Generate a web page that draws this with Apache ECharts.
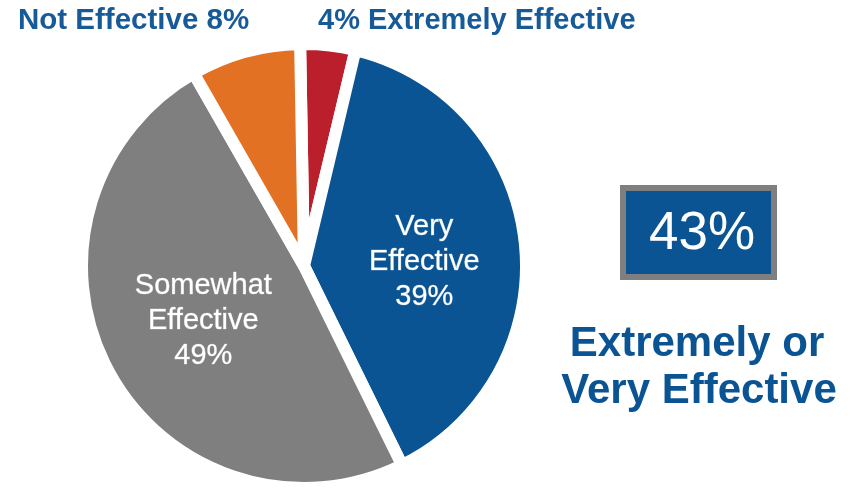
<!DOCTYPE html>
<html><head><meta charset="utf-8">
<script src="https://cdn.jsdelivr.net/npm/echarts@6/dist/echarts.min.js"></script>
<style>html,body{margin:0;padding:0;background:#fff}#c{width:860px;height:490px}</style>
</head><body><div id="c"></div>
<script>
var categories = ['Extremely Effective', 'Very Effective', 'Somewhat Effective', 'Not Effective'];
var values = [4, 39, 49, 8];
var sliceColors = ['#BA1F2B', '#0A5494', '#7F7F7F', '#E37124'];
var combinedValue = values[0] + values[1];
var combinedLabel = ['Extremely or', 'Very Effective'];

var chart = echarts.init(document.getElementById('c'), null, {renderer: 'canvas'});
var FONT = '"Liberation Sans", Arial, sans-serif';
var TXT_BLUE = '#175A98';

var data = categories.map(function (c, i) {
  var d = {name: c, value: values[i], itemStyle: {color: sliceColors[i]}};
  if (i === 1) d.label = {show: true, offset: [7, 9]};
  if (i === 2) d.label = {show: true, offset: [0, 1]};
  return d;
});

chart.setOption({
  animation: false,
  series: [{
    type: 'pie',
    center: [304, 266],
    radius: [0, 222],
    startAngle: 91,
    clockwise: true,
    itemStyle: {borderColor: '#fff', borderWidth: 12},
    label: {
      show: false,
      position: 'inside',
      color: '#fff',
      fontFamily: FONT,
      fontSize: 29,
      lineHeight: 35,
      align: 'center',
      textBorderColor: 'rgba(255,255,255,0.5)',
      textBorderWidth: 0.6,
      formatter: function (p) {
        return p.name.replace(' ', '\n') + '\n' + p.value + '%';
      }
    },
    labelLine: {show: false},
    emphasis: {disabled: true},
    data: data
  }],
  graphic: [
    {type: 'text', left: 18, top: 6, style: {text: categories[3] + ' ' + values[3] + '%', fill: TXT_BLUE, font: 'bold 29.5px ' + FONT}},
    {type: 'text', left: 318, top: 6, style: {text: values[0] + '% ' + categories[0], fill: TXT_BLUE, font: 'bold 29px ' + FONT}},
    {type: 'rect', shape: {x: 623, y: 188, width: 151, height: 89}, style: {fill: '#0A5494', stroke: '#7F7F7F', lineWidth: 6}},
    {type: 'text', x: 702, y: 234, style: {text: combinedValue + '%', fill: '#fff', font: '53px ' + FONT, align: 'center', verticalAlign: 'middle'}},
    {type: 'text', x: 697, y: 344, style: {text: combinedLabel[0], fill: '#0A5494', font: 'bold 42px ' + FONT, align: 'center', verticalAlign: 'middle'}},
    {type: 'text', x: 699, y: 391, style: {text: combinedLabel[1], fill: '#0A5494', font: 'bold 42px ' + FONT, align: 'center', verticalAlign: 'middle'}}
  ]
});
</script></body></html>
